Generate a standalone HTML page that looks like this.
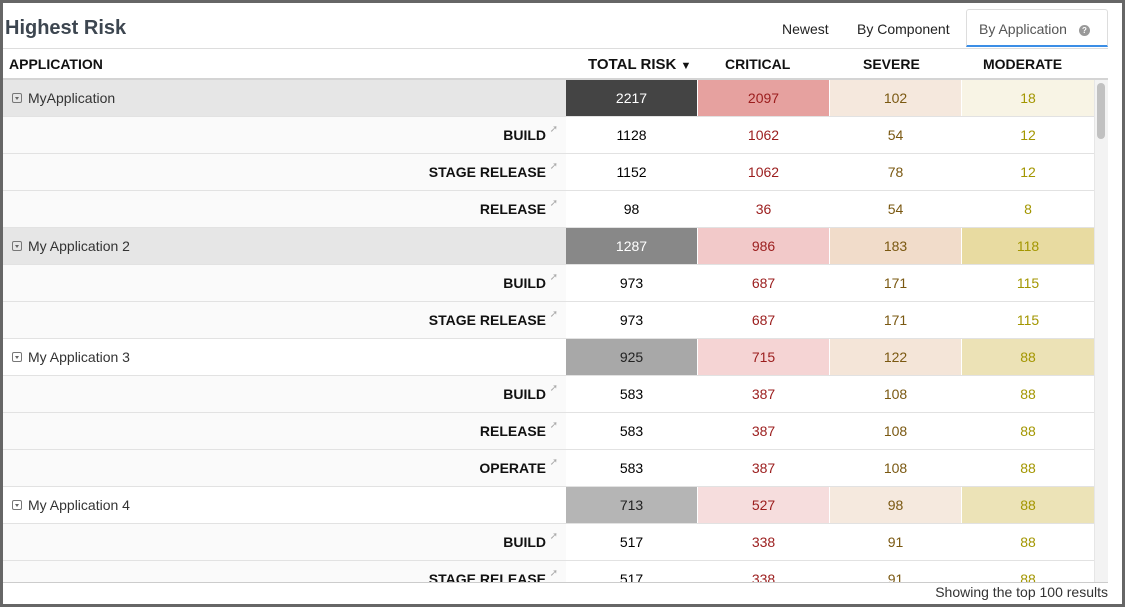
<!DOCTYPE html>
<html><head><meta charset="utf-8"><style>
*{margin:0;padding:0;box-sizing:border-box}
body{width:1125px;height:607px;background:#666;font-family:"Liberation Sans",Arial,sans-serif;position:relative;overflow:hidden}
#p{position:absolute;left:3px;top:3px;width:1119px;height:601px;background:#fff;overflow:hidden}
.t{position:absolute;left:2px;top:14px;font-size:20px;font-weight:bold;color:#3d4650}
.tab{position:absolute;top:18px;font-size:14px;color:#222}
#act{position:absolute;left:963px;top:6px;width:142px;height:38px;border:1px solid #ddd;border-bottom:2px solid #3b8ee6;border-radius:3px 3px 0 0;font-size:14px;color:#555;padding:11px 0 0 12px}
.q{display:inline-block;width:11px;height:11px;border-radius:50%;background:#999;color:#fff;font-size:8px;text-align:center;line-height:11px;font-weight:bold;margin-left:12px;vertical-align:1px}
.hl{position:absolute;left:0;top:45px;width:1105px;border-top:1px solid #ddd}
.hd{position:absolute;top:53px;font-size:14px;font-weight:bold;color:#111}
.hb{position:absolute;left:0;top:75px;width:1105px;border-top:2px solid #d4d4d4}
#body{position:absolute;left:0;top:77px;width:1105px;height:502px;overflow:hidden}
.r{position:absolute;left:0;width:1091px;height:37px;border-bottom:1px solid #e2e2e2}
.c{position:absolute;top:0;height:36px;line-height:36px;text-align:center;font-size:14px}
.a{left:0;width:563px}
.n1{left:563px;width:131px}.n2{left:695px;width:131px;color:#9b1d1d}.n3{left:827px;width:131px;color:#7a5811}.n4{left:959px;width:132px;color:#a39600}
.pa{text-align:left;padding-left:9px;color:#333}
.box{display:inline-block;width:10px;height:10px;border:1px solid #777;border-radius:2px;margin-right:6px;vertical-align:0px;position:relative}
.box:after{content:"";position:absolute;left:2px;top:3px;border-left:2px solid transparent;border-right:2px solid transparent;border-top:3px solid #666}
.ch{text-align:right;padding-right:20px;font-weight:bold;color:#111;background:#fafafa}
.ch sup{position:absolute;right:8px;top:-5px;font-size:10px;color:#aaa;font-weight:normal}
#sb{position:absolute;left:1091px;top:77px;width:14px;height:502px;background:#f3f3f3;border-left:1px solid #e6e6e6}
#th{position:absolute;left:1094px;top:80px;width:8px;height:56px;background:#c1c1c1;border-radius:4px}
#ft{position:absolute;left:0;top:579px;width:1105px;border-top:1px solid #ccc}
.fo{position:absolute;right:14px;top:581px;font-size:14px;color:#333}
</style></head><body><div id="p">
<div class="t">Highest Risk</div>
<div class="tab" style="left:779px">Newest</div>
<div class="tab" style="left:854px">By Component</div>
<div id="act">By Application<span class="q">?</span></div>
<div class="hl"></div>
<div class="hd" style="left:6px">APPLICATION</div>
<div class="hd" style="left:585px;font-size:15px">TOTAL RISK <span style="font-size:11px">&#9660;</span></div>
<div class="hd" style="left:722px">CRITICAL</div>
<div class="hd" style="left:860px">SEVERE</div>
<div class="hd" style="left:980px">MODERATE</div>
<div class="hb"></div>
<div id="body">
<div class="r" style="top:0"><div class="c a pa" style="background:#e6e6e6"><span class="box"></span>MyApplication</div><div class="c n1" style="background:#444;color:#fff">2217</div><div class="c n2" style="background:#e6a19f">2097</div><div class="c n3" style="background:#f5e8dd">102</div><div class="c n4" style="background:#f8f4e5">18</div></div>
<div class="r" style="top:37px"><div class="c a ch">BUILD<sup>&#10138;</sup></div><div class="c n1">1128</div><div class="c n2">1062</div><div class="c n3">54</div><div class="c n4">12</div></div>
<div class="r" style="top:74px"><div class="c a ch">STAGE RELEASE<sup>&#10138;</sup></div><div class="c n1">1152</div><div class="c n2">1062</div><div class="c n3">78</div><div class="c n4">12</div></div>
<div class="r" style="top:111px"><div class="c a ch">RELEASE<sup>&#10138;</sup></div><div class="c n1">98</div><div class="c n2">36</div><div class="c n3">54</div><div class="c n4">8</div></div>
<div class="r" style="top:148px"><div class="c a pa" style="background:#e6e6e6"><span class="box"></span>My Application 2</div><div class="c n1" style="background:#888;color:#fff">1287</div><div class="c n2" style="background:#f2c9c9">986</div><div class="c n3" style="background:#f1dcca">183</div><div class="c n4" style="background:#e8dba1">118</div></div>
<div class="r" style="top:185px"><div class="c a ch">BUILD<sup>&#10138;</sup></div><div class="c n1">973</div><div class="c n2">687</div><div class="c n3">171</div><div class="c n4">115</div></div>
<div class="r" style="top:222px"><div class="c a ch">STAGE RELEASE<sup>&#10138;</sup></div><div class="c n1">973</div><div class="c n2">687</div><div class="c n3">171</div><div class="c n4">115</div></div>
<div class="r" style="top:259px"><div class="c a pa"><span class="box"></span>My Application 3</div><div class="c n1" style="background:#a8a8a8;color:#222">925</div><div class="c n2" style="background:#f5d4d4">715</div><div class="c n3" style="background:#f4e5d8">122</div><div class="c n4" style="background:#ece2b6">88</div></div>
<div class="r" style="top:296px"><div class="c a ch">BUILD<sup>&#10138;</sup></div><div class="c n1">583</div><div class="c n2">387</div><div class="c n3">108</div><div class="c n4">88</div></div>
<div class="r" style="top:333px"><div class="c a ch">RELEASE<sup>&#10138;</sup></div><div class="c n1">583</div><div class="c n2">387</div><div class="c n3">108</div><div class="c n4">88</div></div>
<div class="r" style="top:370px"><div class="c a ch">OPERATE<sup>&#10138;</sup></div><div class="c n1">583</div><div class="c n2">387</div><div class="c n3">108</div><div class="c n4">88</div></div>
<div class="r" style="top:407px"><div class="c a pa"><span class="box"></span>My Application 4</div><div class="c n1" style="background:#b5b5b5;color:#222">713</div><div class="c n2" style="background:#f6dddd">527</div><div class="c n3" style="background:#f5e9de">98</div><div class="c n4" style="background:#ece3b7">88</div></div>
<div class="r" style="top:444px"><div class="c a ch">BUILD<sup>&#10138;</sup></div><div class="c n1">517</div><div class="c n2">338</div><div class="c n3">91</div><div class="c n4">88</div></div>
<div class="r" style="top:481px"><div class="c a ch">STAGE RELEASE<sup>&#10138;</sup></div><div class="c n1">517</div><div class="c n2">338</div><div class="c n3">91</div><div class="c n4">88</div></div>
</div>
<div id="sb"></div><div id="th"></div>
<div id="ft"></div>
<div class="fo">Showing the top 100 results</div>
</div></body></html>
